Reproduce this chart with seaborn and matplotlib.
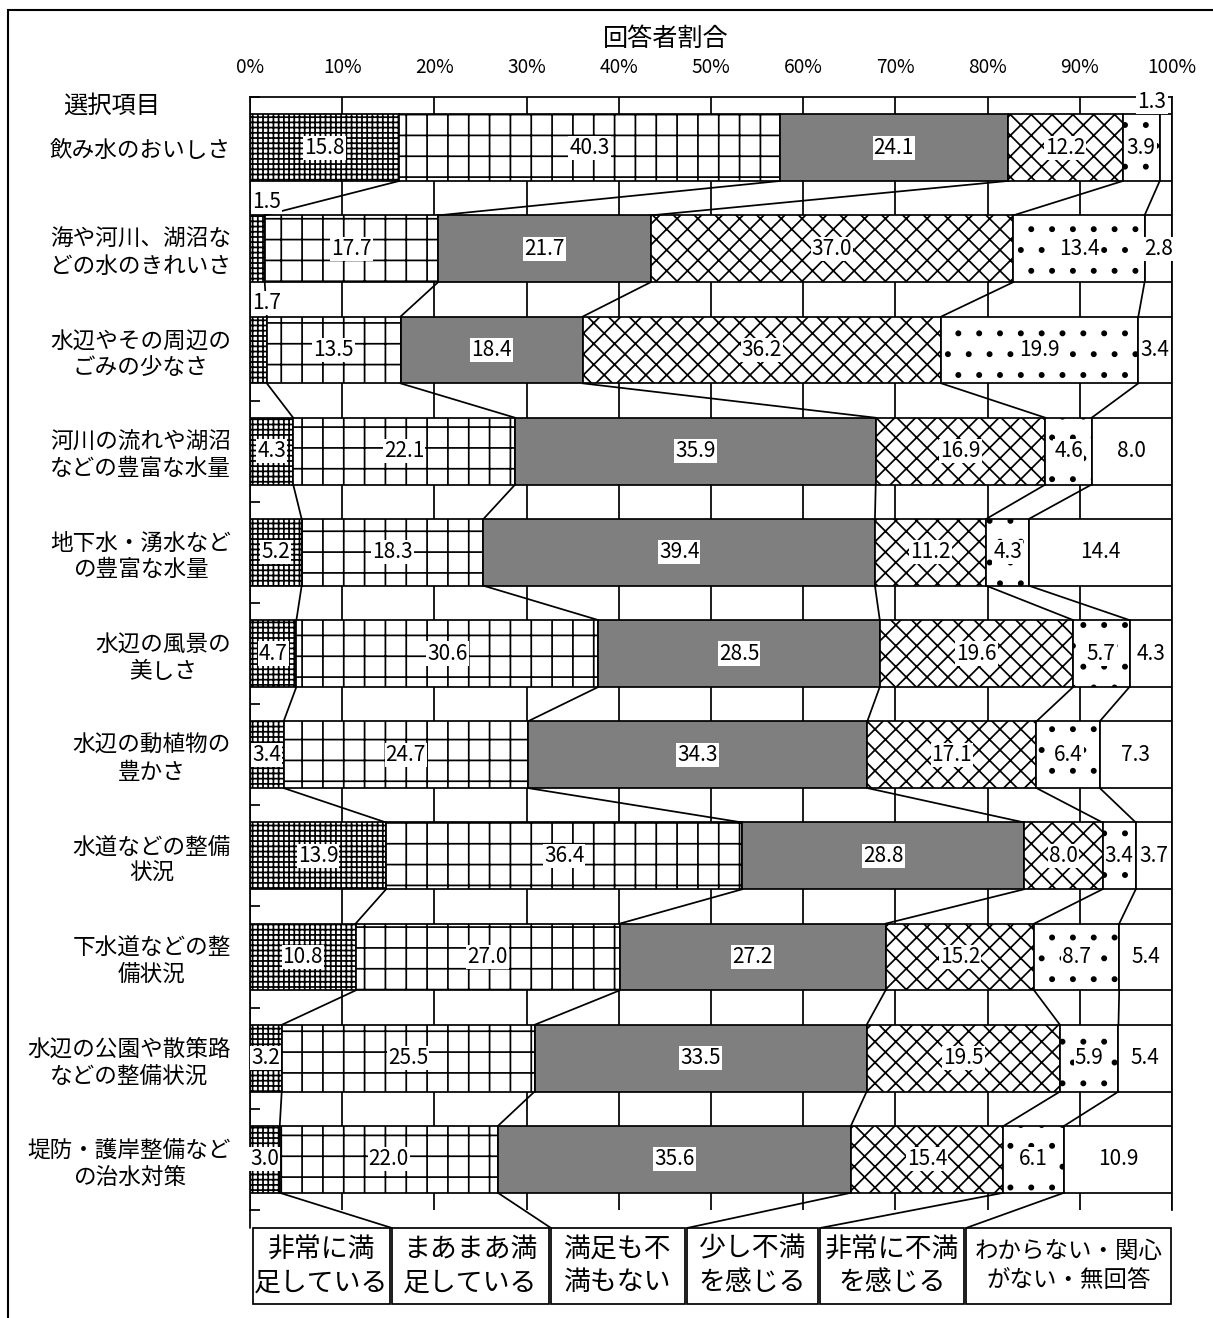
import numpy as np
import pandas as pd
import seaborn as sns
import matplotlib.pyplot as plt
from matplotlib.patches import Rectangle, ConnectionPatch

plt.rcParams['font.family'] = ['Noto Sans CJK JP', 'DejaVu Sans']
plt.rcParams['hatch.linewidth'] = 1.0

W, H, DPI = 1213, 1318, 125

items = ["飲み水のおいしさ",
         "海や河川、湖沼な\nどの水のきれいさ",
         "水辺やその周辺の\nごみの少なさ",
         "河川の流れや湖沼\nなどの豊富な水量",
         "地下水・湧水など\nの豊富な水量",
         "水辺の風景の\n美しさ",
         "水辺の動植物の\n豊かさ",
         "水道などの整備\n状況",
         "下水道などの整\n備状況",
         "水辺の公園や散策路\nなどの整備状況",
         "堤防・護岸整備など\nの治水対策"]

answers = ["非常に満\n足している", "まあまあ満\n足している", "満足も不\n満もない",
           "少し不満\nを感じる", "非常に不満\nを感じる", "わからない・関心\nがない・無回答"]

very_satisfied = [15.8, 1.5, 1.7, 4.3, 5.2, 4.7, 3.4, 13.9, 10.8, 3.2, 3.0]
fairly_satisfied = [40.3, 17.7, 13.5, 22.1, 18.3, 30.6, 24.7, 36.4, 27.0, 25.5, 22.0]
neutral = [24.1, 21.7, 18.4, 35.9, 39.4, 28.5, 34.3, 28.8, 27.2, 33.5, 35.6]
slightly_dissatisfied = [12.2, 37.0, 36.2, 16.9, 11.2, 19.6, 17.1, 8.0, 15.2, 19.5, 15.4]
very_dissatisfied = [3.9, 13.4, 19.9, 4.6, 4.3, 5.7, 6.4, 3.4, 8.7, 5.9, 6.1]
unknown = [1.3, 2.8, 3.4, 8.0, 14.4, 4.3, 7.3, 3.7, 5.4, 5.4, 10.9]

series = [very_satisfied, fairly_satisfied, neutral,
          slightly_dissatisfied, very_dissatisfied, unknown]

# look of each answer
faces = ['white', 'white', '#7f7f7f', 'white', 'white', 'white']
hatches = ['++++', '+', None, 'xx', '.', None]

raw = np.array(series)
share = raw / raw.sum(axis=0) * 100
cum = np.vstack([np.zeros(len(items)), np.cumsum(share, axis=0)])
pos = np.arange(len(items))

fig = plt.figure(figsize=(W / DPI, H / DPI), dpi=DPI)
ax = fig.add_axes([250 / W, 1 - 1210 / H, (1172 - 250) / W, (1210 - 97) / H])

bar_h = 0.66
for k in range(6):
    df = pd.DataFrame({'pos': pos, 'share': share[k]})
    sns.barplot(data=df, x='share', y='pos', orient='h', native_scale=True,
                left=cum[k], width=bar_h, color=faces[k], saturation=1,
                edgecolor='black', linewidth=1.0, hatch=hatches[k],
                errorbar=None, ax=ax, zorder=2)

# lines joining the same answer between neighbouring bars
for i in range(len(items) - 1):
    for k in range(1, 6):
        ax.plot([cum[k][i], cum[k][i + 1]], [i + bar_h / 2, i + 1 - bar_h / 2],
                color='black', lw=1.0, zorder=3)

# value labels
lab_kw = dict(fontsize=12, va='center', zorder=5,
              bbox=dict(facecolor='white', edgecolor='none', pad=0.6))
for k in range(6):
    for i in range(len(items)):
        v = raw[k][i]
        if v < 2:
            if k == 0:
                ax.text(0.2, i - 0.46, f"{v:.1f}", ha='left', **lab_kw)
            else:
                ax.text(99.4, i - 0.45, f"{v:.1f}", ha='right', **lab_kw)
        else:
            ax.text(cum[k][i] + share[k][i] / 2, i, f"{v:.1f}", ha='center', **lab_kw)

ax.set_xlim(0, 100)
ax.set_ylim(len(items) - 0.5, -0.5)
ax.set_xlabel('')
ax.set_ylabel('')
ax.set_xticks(range(0, 101, 10))
ax.set_xticklabels([f"{t}%" for t in range(0, 101, 10)], fontsize=11)
ax.xaxis.tick_top()
ax.tick_params(axis='x', length=0, pad=11)
ax.xaxis.grid(True, color='black', linewidth=1.0)
ax.yaxis.grid(False)
ax.set_axisbelow(True)

ax.set_yticks(pos)
ax.set_yticklabels(items, fontsize=13, multialignment='center')
ax.tick_params(axis='y', which='major', length=0, pad=11)
ax.set_yticks(np.arange(-0.5, len(items), 1), minor=True)
ax.tick_params(axis='y', which='minor', direction='in', length=6, width=1.0)

for side in ['top', 'left', 'right']:
    ax.spines[side].set_color('black')
    ax.spines[side].set_linewidth(1.0)
ax.spines['bottom'].set_visible(False)

fig.text(666 / W, 1 - 39 / H, '回答者割合', ha='center', va='center', fontsize=14.5)
fig.text(63 / W, 1 - 106 / H, '選択項目', ha='left', va='center', fontsize=14)

# answer boxes under the chart
box_x = [253, 392, 551, 687, 820, 966, 1173]
box_top, box_bot = 1228, 1304
for k in range(6):
    x0, x1 = box_x[k], box_x[k + 1] - 2
    fig.add_artist(Rectangle((x0 / W, 1 - box_bot / H), (x1 - x0) / W,
                             (box_bot - box_top) / H, transform=fig.transFigure,
                             fill=False, ec='black', lw=1.0))
    fig.text((x0 + x1) / 2 / W, 1 - (box_top + box_bot) / 2 / H, answers[k],
             ha='center', va='center', fontsize=15.5 if k < 5 else 13.5,
             multialignment='center', linespacing=1.3)

last = len(items) - 1
for k in range(1, 6):
    con = ConnectionPatch(xyA=(cum[k][last], last + bar_h / 2), coordsA=ax.transData,
                          xyB=(box_x[k] / W, 1 - box_top / H), coordsB=fig.transFigure,
                          color='black', lw=1.0)
    fig.add_artist(con)
fig.add_artist(ConnectionPatch(xyA=(0, last + 0.5), coordsA=ax.transData,
                               xyB=(250 / W, 1 - box_top / H), coordsB=fig.transFigure,
                               color='black', lw=1.0))

# outer frame
fig.add_artist(Rectangle((8 / W, -0.05), 1.2, 1 - 10 / H + 0.05,
                         transform=fig.transFigure, fill=False, ec='black', lw=1.2))

fig.savefig('out.png', dpi=DPI)
